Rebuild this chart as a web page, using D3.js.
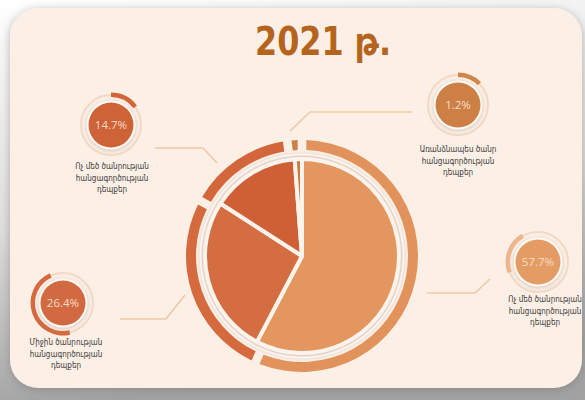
<!DOCTYPE html>
<html>
<head>
<meta charset="utf-8">
<script src="https://cdn.jsdelivr.net/npm/d3@7"></script>
<style>
  html, body { margin: 0; padding: 0; }
  svg { display: block; }
</style>
</head>
<body>
<svg width="585" height="400"></svg>
<script>
// data
const title = "2021 թ.";
const values = [57.7, 26.4, 14.7, 1.2];
const valueLabels = ["57.7%", "26.4%", "14.7%", "1.2%"];
const categoryLines = [
  ["Ոչ մեծ ծանրության", "հանցագործության", "դեպքեր"],
  ["Միջին ծանրության", "հանցագործության", "դեպքեր"],
  ["Ոչ մեծ ծանրության", "հանցագործության", "դեպքեր"],
  ["Առանձնապես ծանր", "հանցագործության", "դեպքեր"]
];

// styling
var pieColors  = ["#E3975F", "#D56D42", "#CF6036", "#C97B42"];
var ringColors = ["#E2935B", "#D46A3E", "#D3663A", "#CB8148"];
var badgeFill  = ["#E39C64", "#D16A41", "#CF6338", "#CC8046"];

// badge layout: centre, text centre, decorative arc (degrees)
var badges = [
  { cx: 538, cy: 262, tx: 545, ty: 302, arc: [250, 330], arcColor: "#EDB68C" },
  { cx: 63,  cy: 303, tx: 66,  ty: 345, arc: [167, 336], arcColor: "#D56A3E" },
  { cx: 111, cy: 125, tx: 112, ty: 169, arc: [0, 53],    arcColor: "#D2653A" },
  { cx: 458, cy: 105, tx: 458, ty: 152, arc: [0, 45],    arcColor: "#D08649" }
];
var connectors = [
  [[427, 293], [475, 293], [490, 279]],
  [[120, 319], [166, 319], [185, 295]],
  [[155, 148], [203, 148], [217, 163]],
  [[412, 112], [310, 112], [290, 131]]
];

var svg = d3.select('svg');
var defs = svg.append('defs');

var bg = defs.append('linearGradient').attr('id', 'bg')
  .attr('x1', 0).attr('y1', 0).attr('x2', 0.2).attr('y2', 1);
bg.append('stop').attr('offset', '0%').attr('stop-color', '#ffffff');
bg.append('stop').attr('offset', '55%').attr('stop-color', '#dedede');
bg.append('stop').attr('offset', '100%').attr('stop-color', '#a2a2a2');

var cardShadow = defs.append('filter').attr('id', 'cardShadow')
  .attr('x', '-10%').attr('y', '-10%').attr('width', '120%').attr('height', '120%');
cardShadow.append('feDropShadow').attr('dx', 0).attr('dy', 2)
  .attr('stdDeviation', 5).attr('flood-color', '#777').attr('flood-opacity', 0.55);

var sliceShadow = defs.append('filter').attr('id', 'sliceShadow')
  .attr('x', '-20%').attr('y', '-20%').attr('width', '140%').attr('height', '140%');
sliceShadow.append('feDropShadow').attr('dx', 0).attr('dy', 0)
  .attr('stdDeviation', 1.8).attr('flood-color', '#8a7a70').attr('flood-opacity', 0.5);

var glow = defs.append('filter').attr('id', 'glow')
  .attr('x', '-30%').attr('y', '-30%').attr('width', '160%').attr('height', '160%');
glow.append('feDropShadow').attr('dx', 0).attr('dy', 1)
  .attr('stdDeviation', 2).attr('flood-color', '#9a8b80').attr('flood-opacity', 0.45);

svg.append('rect').attr('width', 585).attr('height', 400).attr('fill', 'url(#bg)');
svg.append('rect')
  .attr('x', 10).attr('y', 8).attr('width', 572).attr('height', 380)
  .attr('rx', 28).attr('fill', '#FCEFE5')
  .attr('filter', 'url(#cardShadow)');

// title
svg.append('text')
  .attr('x', 323).attr('y', 55)
  .attr('text-anchor', 'middle')
  .attr('textLength', 136).attr('lengthAdjust', 'spacingAndGlyphs')
  .style('font-family', '"DejaVu Sans", sans-serif')
  .style('font-weight', 'bold')
  .style('font-size', '39px')
  .style('fill', '#B5641E')
  .text(title);

// connector lines
svg.append('g').selectAll('path')
  .data(connectors)
  .enter()
  .append('path')
  .attr('d', d3.line())
  .attr('fill', 'none')
  .attr('stroke', '#EFC9A6')
  .attr('stroke-width', 1.6);

// main pie
var cx = 302, cy = 256;
var pie = d3.pie().sort(null).value(d => d);
var slices = pie(values);
var pieArc = d3.arc().innerRadius(0).outerRadius(97);
var ringPie = d3.pie().sort(null).value(d => d).padAngle(0.055);
var ringArc = d3.arc().innerRadius(106).outerRadius(116);

var chartG = svg.append('g').attr('transform', `translate(${cx}, ${cy})`);

chartG.append('circle').attr('r', 101.5)
  .attr('fill', 'none').attr('stroke', '#FFF9F4').attr('stroke-width', 2)
  .attr('opacity', 0.7).attr('filter', 'url(#sliceShadow)');

chartG.append('g').attr('filter', 'url(#sliceShadow)')
  .selectAll('path')
  .data(slices)
  .enter()
  .append('path')
  .attr('d', pieArc)
  .attr('fill', (d, i) => pieColors[i])
  .attr('stroke', '#FCF3EC')
  .attr('stroke-width', 4)
  .attr('stroke-linejoin', 'round');

chartG.append('g')
  .selectAll('path')
  .data(ringPie(values))
  .enter()
  .append('path')
  .attr('d', ringArc)
  .attr('fill', (d, i) => ringColors[i]);

// badges
var toRad = Math.PI / 180;
var badgeG = svg.append('g').selectAll('g')
  .data(values)
  .enter()
  .append('g');

badgeG.append('circle')
  .attr('cx', (d, i) => badges[i].cx).attr('cy', (d, i) => badges[i].cy)
  .attr('r', 30).attr('fill', 'none')
  .attr('stroke', '#F1D9C8').attr('stroke-width', 2);

badgeG.append('path')
  .attr('transform', (d, i) => `translate(${badges[i].cx}, ${badges[i].cy})`)
  .attr('d', (d, i) => d3.arc()
    .innerRadius(28).outerRadius(32.5)
    .startAngle(badges[i].arc[0] * toRad)
    .endAngle(badges[i].arc[1] * toRad)())
  .attr('fill', (d, i) => badges[i].arcColor);

badgeG.append('circle')
  .attr('cx', (d, i) => badges[i].cx).attr('cy', (d, i) => badges[i].cy)
  .attr('r', 24.5).attr('fill', '#FFF8F2')
  .attr('filter', 'url(#glow)');

badgeG.append('circle')
  .attr('cx', (d, i) => badges[i].cx).attr('cy', (d, i) => badges[i].cy)
  .attr('r', 22.5).attr('fill', (d, i) => badgeFill[i]);

badgeG.append('text')
  .attr('x', (d, i) => badges[i].cx).attr('y', (d, i) => badges[i].cy + 4)
  .attr('text-anchor', 'middle')
  .style('font-family', '"Open Sans", "DejaVu Sans", sans-serif')
  .style('font-size', '11.5px')
  .style('fill', '#F8DCC8')
  .text((d, i) => valueLabels[i]);

badgeG.each(function(d, i) {
  var t = d3.select(this).append('text')
    .attr('text-anchor', 'middle')
    .style('font-family', '"DejaVu Sans Condensed", "DejaVu Sans", sans-serif')
    .style('font-size', '8px')
    .style('fill', '#3a3a3a');
  categoryLines[i].forEach(function(line, j) {
    t.append('tspan')
      .attr('x', badges[i].tx)
      .attr('y', badges[i].ty + j * 11.5)
      .text(line);
  });
});
</script>
</body>
</html>
